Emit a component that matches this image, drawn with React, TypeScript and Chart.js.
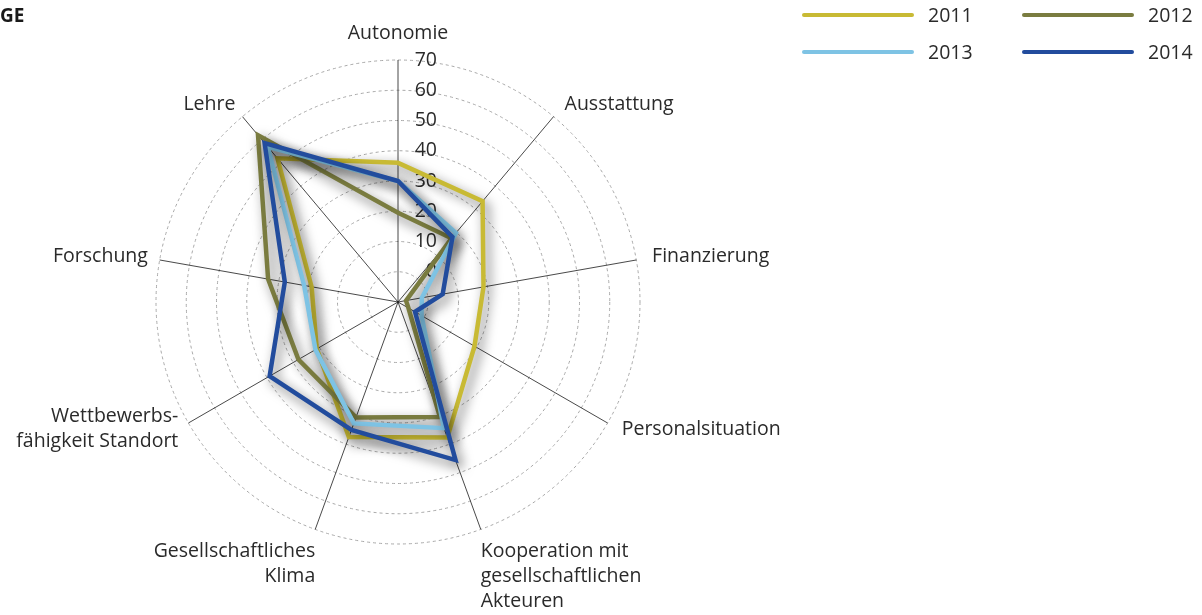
import React, { useEffect, useRef } from 'react';
import { Chart, registerables } from 'chart.js';

Chart.register(...registerables);

// ---- data ----
const categories: (string | string[])[] = [
  'Autonomie',
  'Ausstattung',
  'Finanzierung',
  'Personalsituation',
  ['Kooperation mit', 'gesellschaftlichen', 'Akteuren'],
  ['Gesellschaftliches', 'Klima'],
  ['Wettbewerbs-', 'fähigkeit Standort'],
  'Forschung',
  'Lehre',
];
const seriesNames = ['2011', '2012', '2013', '2014'];
const values2011 = [36, 33.5, 18.7, 19.2, 37.7, 37.5, 21, 19, 52];
const values2012 = [19.5, 17.5, -7.3, -6, 30.5, 30.6, 28, 33.6, 62];
const values2013 = [30, 19.8, -2, -1, 34.4, 32.7, 21.5, 21.5, 57];
const values2014 = [30, 18, 5, -3.5, 45.6, 35, 39, 28, 58.6];
const scaleMin = -10;
const scaleMax = 70;
const scaleStep = 10;
const titleText = 'GE';

// ---- styles ----
const colors = ['#C8BA34', '#7A7C40', '#7EC3E4', '#224C9D'];
const FONT = "'Open Sans', sans-serif";
const TEXT = '#2a2a2a';

const decorPlugin = {
  id: 'decor',
  beforeDatasetsDraw(chart: any) {
    const scale = chart.scales.r;
    const ctx = chart.ctx;
    ctx.save();
    ctx.font = `19.5px ${FONT}`;
    ctx.fillStyle = TEXT;
    ctx.textAlign = 'right';
    ctx.textBaseline = 'middle';
    scale.ticks.forEach((t: any) => {
      if (t.value < 0) return;
      const d = scale.getDistanceFromCenterForValue(t.value);
      ctx.fillText(String(t.value), scale.xCenter + 39, scale.yCenter - d);
    });
    ctx.restore();
    // shadow for the lines
    ctx.save();
    ctx.shadowColor = 'rgba(0,0,0,0.6)';
    ctx.shadowBlur = 12;
    ctx.shadowOffsetX = 4;
    ctx.shadowOffsetY = 5;
  },
  afterDatasetsDraw(chart: any) {
    const ctx = chart.ctx;
    ctx.restore();
    const scale = chart.scales.r;
    // point labels
    ctx.save();
    ctx.font = `19.5px ${FONT}`;
    ctx.fillStyle = TEXT;
    ctx.textBaseline = 'middle';
    const lineH = 25;
    (chart.data.labels as any[]).forEach((lab, i) => {
      const lines: string[] = Array.isArray(lab) ? lab : [lab];
      const a = scale.getIndexAngle(i);
      const s = Math.sin(a);
      const c = Math.cos(a);
      const outer = scale.getPointPosition(i, scale.drawingArea);
      const p = scale.getPointPosition(i, scale.drawingArea + 14);
      const blockH = lines.length * lineH;
      let x = p.x + 2;
      let yTop: number;
      const align: CanvasTextAlign = s > 0.05 ? 'left' : s < -0.05 ? 'right' : 'center';
      if (c > 0.9) {
        x = p.x;
        yTop = p.y - blockH;
      } else if (c < -0.8) {
        x = outer.x;
        yTop = p.y - 4;
      } else {
        yTop = p.y - blockH / 2 - 1;
      }
      ctx.textAlign = align;
      lines.forEach((ln, k) => {
        ctx.fillText(ln, x, yTop + lineH * k + lineH / 2);
      });
    });
    ctx.restore();

    // legend
    ctx.save();
    ctx.font = `19.5px ${FONT}`;
    ctx.textBaseline = 'middle';
    ctx.textAlign = 'left';
    ctx.lineCap = 'round';
    chart.data.datasets.forEach((ds: any, i: number) => {
      const col = i % 2;
      const row = Math.floor(i / 2);
      const x0 = 804 + col * 220;
      const y = 15 + row * 37;
      ctx.strokeStyle = ds.borderColor;
      ctx.lineWidth = 4;
      ctx.beginPath();
      ctx.moveTo(x0, y);
      ctx.lineTo(x0 + 108, y);
      ctx.stroke();
      ctx.fillStyle = TEXT;
      ctx.fillText(ds.label, x0 + 124, y + 1);
    });
    // title fragment
    ctx.font = `bold 19px ${FONT}`;
    ctx.fillStyle = '#1a1a1a';
    ctx.fillText(titleText, 0, 17);
    ctx.restore();
  },
};

export default function App() {
  const ref = useRef<HTMLCanvasElement | null>(null);

  useEffect(() => {
    if (!ref.current) return;
    const allValues = [values2011, values2012, values2013, values2014];
    const chart = new Chart(ref.current, {
      type: 'radar',
      data: {
        labels: categories as any,
        datasets: seriesNames.map((name, i) => ({
          label: name,
          data: allValues[i],
          borderColor: colors[i],
          backgroundColor: 'rgba(0,0,0,0)',
          borderWidth: 4.5,
          pointRadius: 0,
          pointHoverRadius: 0,
          fill: false,
          tension: 0,
          borderJoinStyle: 'miter' as const,
          order: 3 - i,
        })),
      },
      options: {
        responsive: false,
        maintainAspectRatio: false,
        animation: false,
        layout: { padding: { left: 156, top: 60, right: 562, bottom: 71 } },
        plugins: {
          legend: { display: false },
          tooltip: { enabled: false },
          title: { display: false },
        },
        scales: {
          r: {
            min: scaleMin,
            max: scaleMax,
            startAngle: 0,
            ticks: { display: false, stepSize: scaleStep },
            pointLabels: { display: false },
            grid: { circular: true, color: '#a8a8a8', lineWidth: 1, borderDash: [3, 3] } as any,
            border: { dash: [3, 3] } as any,
            angleLines: { color: '#1a1a1a', lineWidth: 0.8 },
          },
        },
      } as any,
      plugins: [decorPlugin],
    });
    return () => chart.destroy();
  }, []);

  return (
    <div style={{ position: 'fixed', left: 0, top: 0, width: 1202, height: 615, background: '#fff' }}>
      <canvas ref={ref} width={1202} height={615} style={{ display: 'block' }} />
    </div>
  );
}
